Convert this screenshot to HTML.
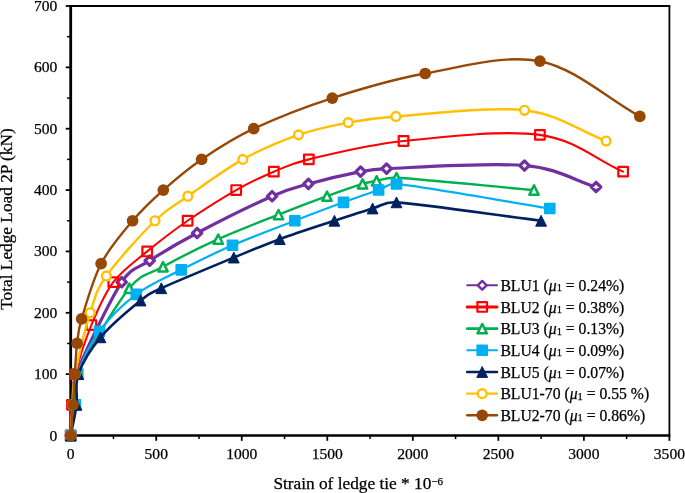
<!DOCTYPE html>
<html><head><meta charset="utf-8"><title>Chart</title>
<style>html,body{margin:0;padding:0;background:#fff}svg{display:block}text{font-family:"Liberation Serif","Times New Roman",serif;fill:#000;stroke:#000;stroke-width:0.25px}</style></head><body>
<svg width="685" height="493" viewBox="0 0 685 493">
<rect width="685" height="493" fill="#fff"/>
<path d="M69.40,6.00 H670.30" stroke="#000" stroke-width="2" fill="none"/>
<path d="M669.40,6.00 V435.50" stroke="#000" stroke-width="1.8" fill="none"/>
<path d="M70.70,5.00 V436.50" stroke="#000" stroke-width="2.8" fill="none"/>
<path d="M69.40,435.50 H670.30" stroke="#000" stroke-width="2.4" fill="none"/>
<path d="M65.70,435.50 H70.70" stroke="#000" stroke-width="1.8"/>
<path d="M67.10,404.82 H70.70" stroke="#000" stroke-width="1.5"/>
<text x="57.3" y="440.50" font-size="15.6" text-anchor="end">0</text>
<path d="M65.70,374.14 H70.70" stroke="#000" stroke-width="1.8"/>
<path d="M67.10,343.46 H70.70" stroke="#000" stroke-width="1.5"/>
<text x="57.3" y="379.14" font-size="15.6" text-anchor="end">100</text>
<path d="M65.70,312.79 H70.70" stroke="#000" stroke-width="1.8"/>
<path d="M67.10,282.11 H70.70" stroke="#000" stroke-width="1.5"/>
<text x="57.3" y="317.79" font-size="15.6" text-anchor="end">200</text>
<path d="M65.70,251.43 H70.70" stroke="#000" stroke-width="1.8"/>
<path d="M67.10,220.75 H70.70" stroke="#000" stroke-width="1.5"/>
<text x="57.3" y="256.43" font-size="15.6" text-anchor="end">300</text>
<path d="M65.70,190.07 H70.70" stroke="#000" stroke-width="1.8"/>
<path d="M67.10,159.39 H70.70" stroke="#000" stroke-width="1.5"/>
<text x="57.3" y="195.07" font-size="15.6" text-anchor="end">400</text>
<path d="M65.70,128.71 H70.70" stroke="#000" stroke-width="1.8"/>
<path d="M67.10,98.04 H70.70" stroke="#000" stroke-width="1.5"/>
<text x="57.3" y="133.71" font-size="15.6" text-anchor="end">500</text>
<path d="M65.70,67.36 H70.70" stroke="#000" stroke-width="1.8"/>
<path d="M67.10,36.68 H70.70" stroke="#000" stroke-width="1.5"/>
<text x="57.3" y="72.36" font-size="15.6" text-anchor="end">600</text>
<path d="M65.70,6.00 H70.70" stroke="#000" stroke-width="1.8"/>
<text x="57.3" y="11.00" font-size="15.6" text-anchor="end">700</text>
<path d="M70.70,435.50 V440.80" stroke="#000" stroke-width="1.8"/>
<path d="M113.46,435.50 V439.10" stroke="#000" stroke-width="1.5"/>
<text x="70.70" y="459" font-size="15.6" text-anchor="middle">0</text>
<path d="M156.23,435.50 V440.80" stroke="#000" stroke-width="1.8"/>
<path d="M198.99,435.50 V439.10" stroke="#000" stroke-width="1.5"/>
<text x="156.23" y="459" font-size="15.6" text-anchor="middle">500</text>
<path d="M241.76,435.50 V440.80" stroke="#000" stroke-width="1.8"/>
<path d="M284.52,435.50 V439.10" stroke="#000" stroke-width="1.5"/>
<text x="241.76" y="459" font-size="15.6" text-anchor="middle">1000</text>
<path d="M327.29,435.50 V440.80" stroke="#000" stroke-width="1.8"/>
<path d="M370.05,435.50 V439.10" stroke="#000" stroke-width="1.5"/>
<text x="327.29" y="459" font-size="15.6" text-anchor="middle">1500</text>
<path d="M412.81,435.50 V440.80" stroke="#000" stroke-width="1.8"/>
<path d="M455.58,435.50 V439.10" stroke="#000" stroke-width="1.5"/>
<text x="412.81" y="459" font-size="15.6" text-anchor="middle">2000</text>
<path d="M498.34,435.50 V440.80" stroke="#000" stroke-width="1.8"/>
<path d="M541.11,435.50 V439.10" stroke="#000" stroke-width="1.5"/>
<text x="498.34" y="459" font-size="15.6" text-anchor="middle">2500</text>
<path d="M583.87,435.50 V440.80" stroke="#000" stroke-width="1.8"/>
<path d="M626.64,435.50 V439.10" stroke="#000" stroke-width="1.5"/>
<text x="583.87" y="459" font-size="15.6" text-anchor="middle">3000</text>
<path d="M669.40,435.50 V440.80" stroke="#000" stroke-width="1.8"/>
<text x="669.40" y="459" font-size="15.6" text-anchor="middle">3500</text>
<text x="358.2" y="489" font-size="17.3" text-anchor="middle" id="xl">Strain of ledge tie * 10<tspan font-size="11" dy="-4.5">−6</tspan></text>
<text transform="translate(12.4,219) rotate(-90)" font-size="17.3" text-anchor="middle" id="yl">Total Ledge Load 2P (kN)</text>
<path d="M70.70,435.50 C71.63,425.27 72.57,415.05 73.50,404.82 C74.43,394.60 70.67,388.48 76.30,374.14 C84.33,353.69 109.47,301.03 121.70,282.11 C131.28,267.29 137.13,268.81 149.70,260.63 C162.27,252.45 176.70,243.76 197.10,233.02 C217.50,222.28 253.55,204.39 272.10,196.21 C289.63,188.48 293.65,188.03 308.40,183.94 C323.15,179.85 347.57,174.22 360.60,171.66 C373.45,169.14 373.52,169.09 386.60,168.60 C413.92,167.57 489.58,162.46 524.50,165.53 C559.42,168.60 572.23,179.85 596.10,187.00" fill="none" stroke="#7030A0" stroke-width="3.2" stroke-linejoin="round" stroke-linecap="round"/>
<path d="M70.70,430.80 l4.70,4.70 l-4.70,4.70 l-4.70,-4.70 z" fill="#fff" stroke="#7030A0" stroke-width="3.2" stroke-linejoin="round"/>
<path d="M73.50,400.12 l4.70,4.70 l-4.70,4.70 l-4.70,-4.70 z" fill="#fff" stroke="#7030A0" stroke-width="3.2" stroke-linejoin="round"/>
<path d="M76.30,369.44 l4.70,4.70 l-4.70,4.70 l-4.70,-4.70 z" fill="#fff" stroke="#7030A0" stroke-width="3.2" stroke-linejoin="round"/>
<path d="M121.70,277.41 l4.70,4.70 l-4.70,4.70 l-4.70,-4.70 z" fill="#fff" stroke="#7030A0" stroke-width="3.2" stroke-linejoin="round"/>
<path d="M149.70,255.93 l4.70,4.70 l-4.70,4.70 l-4.70,-4.70 z" fill="#fff" stroke="#7030A0" stroke-width="3.2" stroke-linejoin="round"/>
<path d="M197.10,228.32 l4.70,4.70 l-4.70,4.70 l-4.70,-4.70 z" fill="#fff" stroke="#7030A0" stroke-width="3.2" stroke-linejoin="round"/>
<path d="M272.10,191.51 l4.70,4.70 l-4.70,4.70 l-4.70,-4.70 z" fill="#fff" stroke="#7030A0" stroke-width="3.2" stroke-linejoin="round"/>
<path d="M308.40,179.24 l4.70,4.70 l-4.70,4.70 l-4.70,-4.70 z" fill="#fff" stroke="#7030A0" stroke-width="3.2" stroke-linejoin="round"/>
<path d="M360.60,166.96 l4.70,4.70 l-4.70,4.70 l-4.70,-4.70 z" fill="#fff" stroke="#7030A0" stroke-width="3.2" stroke-linejoin="round"/>
<path d="M386.60,163.90 l4.70,4.70 l-4.70,4.70 l-4.70,-4.70 z" fill="#fff" stroke="#7030A0" stroke-width="3.2" stroke-linejoin="round"/>
<path d="M524.50,160.83 l4.70,4.70 l-4.70,4.70 l-4.70,-4.70 z" fill="#fff" stroke="#7030A0" stroke-width="3.2" stroke-linejoin="round"/>
<path d="M596.10,182.30 l4.70,4.70 l-4.70,4.70 l-4.70,-4.70 z" fill="#fff" stroke="#7030A0" stroke-width="3.2" stroke-linejoin="round"/>
<path d="M70.70,435.50 C71.13,425.27 71.23,415.05 72.00,404.82 C72.77,394.60 72.07,387.44 75.30,374.14 C78.53,360.85 85.07,340.40 91.40,325.06 C97.73,309.72 104.00,294.38 113.30,282.11 C122.60,269.84 134.82,261.65 147.20,251.43 C159.58,241.20 172.77,230.98 187.60,220.75 C202.43,210.52 221.83,198.25 236.20,190.07 C250.57,181.89 261.70,176.78 273.80,171.66 C285.90,166.55 290.75,163.66 308.80,159.39 C330.42,154.28 364.98,145.08 403.50,140.99 C442.02,136.90 503.30,129.74 539.90,134.85 C576.50,139.96 595.37,159.39 623.10,171.66" fill="none" stroke="#FF0000" stroke-width="2.1" stroke-linejoin="round" stroke-linecap="round"/>
<rect x="65.90" y="430.70" width="9.6" height="9.6" fill="none" stroke="#FF0000" stroke-width="2.2" stroke-linejoin="round"/>
<rect x="67.20" y="400.02" width="9.6" height="9.6" fill="none" stroke="#FF0000" stroke-width="2.2" stroke-linejoin="round"/>
<rect x="70.50" y="369.34" width="9.6" height="9.6" fill="none" stroke="#FF0000" stroke-width="2.2" stroke-linejoin="round"/>
<rect x="86.60" y="320.26" width="9.6" height="9.6" fill="none" stroke="#FF0000" stroke-width="2.2" stroke-linejoin="round"/>
<rect x="108.50" y="277.31" width="9.6" height="9.6" fill="none" stroke="#FF0000" stroke-width="2.2" stroke-linejoin="round"/>
<rect x="142.40" y="246.63" width="9.6" height="9.6" fill="none" stroke="#FF0000" stroke-width="2.2" stroke-linejoin="round"/>
<rect x="182.80" y="215.95" width="9.6" height="9.6" fill="none" stroke="#FF0000" stroke-width="2.2" stroke-linejoin="round"/>
<rect x="231.40" y="185.27" width="9.6" height="9.6" fill="none" stroke="#FF0000" stroke-width="2.2" stroke-linejoin="round"/>
<rect x="269.00" y="166.86" width="9.6" height="9.6" fill="none" stroke="#FF0000" stroke-width="2.2" stroke-linejoin="round"/>
<rect x="304.00" y="154.59" width="9.6" height="9.6" fill="none" stroke="#FF0000" stroke-width="2.2" stroke-linejoin="round"/>
<rect x="398.70" y="136.19" width="9.6" height="9.6" fill="none" stroke="#FF0000" stroke-width="2.2" stroke-linejoin="round"/>
<rect x="535.10" y="130.05" width="9.6" height="9.6" fill="none" stroke="#FF0000" stroke-width="2.2" stroke-linejoin="round"/>
<rect x="618.30" y="166.86" width="9.6" height="9.6" fill="none" stroke="#FF0000" stroke-width="2.2" stroke-linejoin="round"/>
<path d="M70.70,435.50 C71.97,425.27 73.45,415.05 74.50,404.82 C75.55,394.60 70.45,388.07 77.00,374.14 C86.13,354.71 114.97,306.14 129.30,288.24 C141.79,272.65 148.18,274.95 163.00,266.77 C177.82,258.59 198.95,247.85 218.20,239.16 C237.45,230.46 260.37,221.77 278.50,214.61 C296.63,207.46 312.98,201.32 327.00,196.21 C341.02,191.09 354.33,186.49 362.60,183.94 C369.45,181.82 370.95,181.89 376.60,180.87 C382.25,179.85 386.45,177.21 396.50,177.80 C422.73,179.33 488.17,185.98 534.00,190.07" fill="none" stroke="#00B050" stroke-width="2.4" stroke-linejoin="round" stroke-linecap="round"/>
<path d="M70.70,430.85 L75.35,440.15 L66.05,440.15 z" fill="#fff" stroke="#00B050" stroke-width="2.5" stroke-linejoin="round"/>
<path d="M74.50,400.17 L79.15,409.47 L69.85,409.47 z" fill="#fff" stroke="#00B050" stroke-width="2.5" stroke-linejoin="round"/>
<path d="M77.00,369.49 L81.65,378.79 L72.35,378.79 z" fill="#fff" stroke="#00B050" stroke-width="2.5" stroke-linejoin="round"/>
<path d="M129.30,283.59 L133.95,292.89 L124.65,292.89 z" fill="#fff" stroke="#00B050" stroke-width="2.5" stroke-linejoin="round"/>
<path d="M163.00,262.12 L167.65,271.42 L158.35,271.42 z" fill="#fff" stroke="#00B050" stroke-width="2.5" stroke-linejoin="round"/>
<path d="M218.20,234.51 L222.85,243.81 L213.55,243.81 z" fill="#fff" stroke="#00B050" stroke-width="2.5" stroke-linejoin="round"/>
<path d="M278.50,209.96 L283.15,219.26 L273.85,219.26 z" fill="#fff" stroke="#00B050" stroke-width="2.5" stroke-linejoin="round"/>
<path d="M327.00,191.56 L331.65,200.86 L322.35,200.86 z" fill="#fff" stroke="#00B050" stroke-width="2.5" stroke-linejoin="round"/>
<path d="M362.60,179.29 L367.25,188.59 L357.95,188.59 z" fill="#fff" stroke="#00B050" stroke-width="2.5" stroke-linejoin="round"/>
<path d="M376.60,176.22 L381.25,185.52 L371.95,185.52 z" fill="#fff" stroke="#00B050" stroke-width="2.5" stroke-linejoin="round"/>
<path d="M396.50,173.15 L401.15,182.45 L391.85,182.45 z" fill="#fff" stroke="#00B050" stroke-width="2.5" stroke-linejoin="round"/>
<path d="M534.00,185.42 L538.65,194.72 L529.35,194.72 z" fill="#fff" stroke="#00B050" stroke-width="2.5" stroke-linejoin="round"/>
<path d="M70.70,435.50 C72.30,425.27 74.32,415.05 75.50,404.82 C76.68,394.60 73.80,386.41 77.80,374.14 C81.80,361.87 89.75,344.49 99.50,331.19 C109.25,317.90 122.68,304.60 136.30,294.38 C149.92,284.15 165.17,278.02 181.20,269.84 C197.23,261.65 213.57,253.47 232.50,245.29 C251.43,237.11 276.30,227.91 294.80,220.75 C313.30,213.59 329.53,207.46 343.50,202.34 C357.47,197.23 369.77,193.14 378.60,190.07 C387.43,187.00 387.09,182.92 396.50,183.94 C425.03,187.00 498.70,200.30 549.80,208.48" fill="none" stroke="#00B0F0" stroke-width="2.2" stroke-linejoin="round" stroke-linecap="round"/>
<rect x="64.90" y="429.70" width="11.6" height="11.6" rx="0.8" fill="#00B0F0"/>
<rect x="69.70" y="399.02" width="11.6" height="11.6" rx="0.8" fill="#00B0F0"/>
<rect x="72.00" y="368.34" width="11.6" height="11.6" rx="0.8" fill="#00B0F0"/>
<rect x="93.70" y="325.39" width="11.6" height="11.6" rx="0.8" fill="#00B0F0"/>
<rect x="130.50" y="288.58" width="11.6" height="11.6" rx="0.8" fill="#00B0F0"/>
<rect x="175.40" y="264.04" width="11.6" height="11.6" rx="0.8" fill="#00B0F0"/>
<rect x="226.70" y="239.49" width="11.6" height="11.6" rx="0.8" fill="#00B0F0"/>
<rect x="289.00" y="214.95" width="11.6" height="11.6" rx="0.8" fill="#00B0F0"/>
<rect x="337.70" y="196.54" width="11.6" height="11.6" rx="0.8" fill="#00B0F0"/>
<rect x="372.80" y="184.27" width="11.6" height="11.6" rx="0.8" fill="#00B0F0"/>
<rect x="390.70" y="178.14" width="11.6" height="11.6" rx="0.8" fill="#00B0F0"/>
<rect x="544.00" y="202.68" width="11.6" height="11.6" rx="0.8" fill="#00B0F0"/>
<path d="M70.70,435.50 C72.63,425.27 75.22,415.05 76.50,404.82 C77.78,394.60 74.40,385.39 78.40,374.14 C82.40,362.89 90.13,349.60 100.50,337.33 C110.87,325.06 130.47,308.70 140.60,300.51 C149.96,292.96 150.37,293.28 161.30,288.24 C176.83,281.08 214.05,265.75 233.80,257.56 C253.55,249.38 263.03,245.29 279.80,239.16 C296.57,233.02 318.93,225.86 334.40,220.75 C349.87,215.64 362.25,211.55 372.60,208.48 C382.95,205.41 384.20,201.45 396.50,202.34 C424.58,204.39 492.90,214.61 541.10,220.75" fill="none" stroke="#002060" stroke-width="2.6" stroke-linejoin="round" stroke-linecap="round"/>
<path d="M70.70,430.10 L76.10,440.90 L65.30,440.90 z" fill="#002060" stroke="#002060" stroke-width="1" stroke-linejoin="round"/>
<path d="M76.50,399.42 L81.90,410.22 L71.10,410.22 z" fill="#002060" stroke="#002060" stroke-width="1" stroke-linejoin="round"/>
<path d="M78.40,368.74 L83.80,379.54 L73.00,379.54 z" fill="#002060" stroke="#002060" stroke-width="1" stroke-linejoin="round"/>
<path d="M100.50,331.93 L105.90,342.73 L95.10,342.73 z" fill="#002060" stroke="#002060" stroke-width="1" stroke-linejoin="round"/>
<path d="M140.60,295.11 L146.00,305.91 L135.20,305.91 z" fill="#002060" stroke="#002060" stroke-width="1" stroke-linejoin="round"/>
<path d="M161.30,282.84 L166.70,293.64 L155.90,293.64 z" fill="#002060" stroke="#002060" stroke-width="1" stroke-linejoin="round"/>
<path d="M233.80,252.16 L239.20,262.96 L228.40,262.96 z" fill="#002060" stroke="#002060" stroke-width="1" stroke-linejoin="round"/>
<path d="M279.80,233.76 L285.20,244.56 L274.40,244.56 z" fill="#002060" stroke="#002060" stroke-width="1" stroke-linejoin="round"/>
<path d="M334.40,215.35 L339.80,226.15 L329.00,226.15 z" fill="#002060" stroke="#002060" stroke-width="1" stroke-linejoin="round"/>
<path d="M372.60,203.08 L378.00,213.88 L367.20,213.88 z" fill="#002060" stroke="#002060" stroke-width="1" stroke-linejoin="round"/>
<path d="M396.50,196.94 L401.90,207.74 L391.10,207.74 z" fill="#002060" stroke="#002060" stroke-width="1" stroke-linejoin="round"/>
<path d="M541.10,215.35 L546.50,226.15 L535.70,226.15 z" fill="#002060" stroke="#002060" stroke-width="1" stroke-linejoin="round"/>
<path d="M70.70,435.50 C71.30,425.27 71.75,415.05 72.50,404.82 C73.25,394.60 72.29,389.26 75.20,374.14 C78.15,358.80 85.00,329.15 90.20,312.79 C95.40,296.42 95.60,291.31 106.40,275.97 C117.20,260.63 141.42,234.04 155.00,220.75 C168.58,207.46 173.27,206.43 187.90,196.21 C202.53,185.98 224.37,169.62 242.80,159.39 C261.23,149.17 280.92,140.99 298.50,134.85 C316.08,128.71 332.07,125.65 348.30,122.58 C364.53,119.51 371.96,118.11 395.90,116.44 C425.27,114.40 489.47,106.22 524.50,110.31 C559.53,114.40 578.90,130.76 606.10,140.99" fill="none" stroke="#FFC000" stroke-width="2.4" stroke-linejoin="round" stroke-linecap="round"/>
<circle cx="70.70" cy="435.50" r="4.4" fill="#fff" stroke="#FFC000" stroke-width="2.4"/>
<circle cx="72.50" cy="404.82" r="4.4" fill="#fff" stroke="#FFC000" stroke-width="2.4"/>
<circle cx="75.20" cy="374.14" r="4.4" fill="#fff" stroke="#FFC000" stroke-width="2.4"/>
<circle cx="90.20" cy="312.79" r="4.4" fill="#fff" stroke="#FFC000" stroke-width="2.4"/>
<circle cx="106.40" cy="275.97" r="4.4" fill="#fff" stroke="#FFC000" stroke-width="2.4"/>
<circle cx="155.00" cy="220.75" r="4.4" fill="#fff" stroke="#FFC000" stroke-width="2.4"/>
<circle cx="187.90" cy="196.21" r="4.4" fill="#fff" stroke="#FFC000" stroke-width="2.4"/>
<circle cx="242.80" cy="159.39" r="4.4" fill="#fff" stroke="#FFC000" stroke-width="2.4"/>
<circle cx="298.50" cy="134.85" r="4.4" fill="#fff" stroke="#FFC000" stroke-width="2.4"/>
<circle cx="348.30" cy="122.58" r="4.4" fill="#fff" stroke="#FFC000" stroke-width="2.4"/>
<circle cx="395.90" cy="116.44" r="4.4" fill="#fff" stroke="#FFC000" stroke-width="2.4"/>
<circle cx="524.50" cy="110.31" r="4.4" fill="#fff" stroke="#FFC000" stroke-width="2.4"/>
<circle cx="606.10" cy="140.99" r="4.4" fill="#fff" stroke="#FFC000" stroke-width="2.4"/>
<path d="M70.70,435.50 C71.47,425.27 72.32,415.05 73.00,404.82 C73.68,394.60 74.12,384.37 74.80,374.14 C75.48,363.92 75.97,352.67 77.10,343.46 C78.23,334.26 78.01,330.87 81.60,318.92 C85.60,305.63 92.60,280.06 101.10,263.70 C109.60,247.34 122.23,233.02 132.60,220.75 C142.97,208.48 151.80,200.30 163.30,190.07 C174.80,179.85 186.53,169.62 201.60,159.39 C216.67,149.17 231.92,138.94 253.70,128.71 C275.48,118.49 303.72,107.24 332.30,98.04 C360.88,88.83 390.60,79.63 425.20,73.49 C459.80,67.36 504.13,54.06 539.90,61.22 C575.67,68.38 606.50,98.04 639.80,116.44" fill="none" stroke="#974806" stroke-width="2.4" stroke-linejoin="round" stroke-linecap="round"/>
<circle cx="70.70" cy="435.50" r="5.85" fill="#974806"/>
<circle cx="73.00" cy="404.82" r="5.85" fill="#974806"/>
<circle cx="74.80" cy="374.14" r="5.85" fill="#974806"/>
<circle cx="77.10" cy="343.46" r="5.85" fill="#974806"/>
<circle cx="81.60" cy="318.92" r="5.85" fill="#974806"/>
<circle cx="101.10" cy="263.70" r="5.85" fill="#974806"/>
<circle cx="132.60" cy="220.75" r="5.85" fill="#974806"/>
<circle cx="163.30" cy="190.07" r="5.85" fill="#974806"/>
<circle cx="201.60" cy="159.39" r="5.85" fill="#974806"/>
<circle cx="253.70" cy="128.71" r="5.85" fill="#974806"/>
<circle cx="332.30" cy="98.04" r="5.85" fill="#974806"/>
<circle cx="425.20" cy="73.49" r="5.85" fill="#974806"/>
<circle cx="539.90" cy="61.22" r="5.85" fill="#974806"/>
<circle cx="639.80" cy="116.44" r="5.85" fill="#974806"/>
<path d="M467.2,285.30 H497.0" stroke="#7030A0" stroke-width="2" stroke-linecap="round"/>
<path d="M482.20,280.90 l4.40,4.40 l-4.40,4.40 l-4.40,-4.40 z" fill="#fff" stroke="#7030A0" stroke-width="2.4" stroke-linejoin="round"/>
<text x="500.4" y="290.90" font-size="15.7" class="lg">BLU1 (<tspan font-style="italic">μ</tspan><tspan font-size="10.5" dy="0.5">1</tspan><tspan dy="-0.5"> = 0.24%)</tspan></text>
<path d="M467.2,306.97 H497.0" stroke="#FF0000" stroke-width="3" stroke-linecap="round"/>
<rect x="477.40" y="302.17" width="9.6" height="9.6" fill="none" stroke="#FF0000" stroke-width="2.2" stroke-linejoin="round"/>
<text x="500.4" y="312.57" font-size="15.7" class="lg">BLU2 (<tspan font-style="italic">μ</tspan><tspan font-size="10.5" dy="0.5">1</tspan><tspan dy="-0.5"> = 0.38%)</tspan></text>
<path d="M467.2,328.64 H497.0" stroke="#00B050" stroke-width="2.6" stroke-linecap="round"/>
<path d="M482.20,323.99 L486.85,333.29 L477.55,333.29 z" fill="#fff" stroke="#00B050" stroke-width="2.5" stroke-linejoin="round"/>
<text x="500.4" y="334.24" font-size="15.7" class="lg">BLU3 (<tspan font-style="italic">μ</tspan><tspan font-size="10.5" dy="0.5">1</tspan><tspan dy="-0.5"> = 0.13%)</tspan></text>
<path d="M467.2,350.31 H497.0" stroke="#00B0F0" stroke-width="2" stroke-linecap="round"/>
<rect x="476.40" y="344.51" width="11.6" height="11.6" rx="0.8" fill="#00B0F0"/>
<text x="500.4" y="355.91" font-size="15.7" class="lg">BLU4 (<tspan font-style="italic">μ</tspan><tspan font-size="10.5" dy="0.5">1</tspan><tspan dy="-0.5"> = 0.09%)</tspan></text>
<path d="M467.2,371.98 H497.0" stroke="#002060" stroke-width="2.6" stroke-linecap="round"/>
<path d="M482.20,366.58 L487.60,377.38 L476.80,377.38 z" fill="#002060" stroke="#002060" stroke-width="1" stroke-linejoin="round"/>
<text x="500.4" y="377.58" font-size="15.7" class="lg">BLU5 (<tspan font-style="italic">μ</tspan><tspan font-size="10.5" dy="0.5">1</tspan><tspan dy="-0.5"> = 0.07%)</tspan></text>
<path d="M467.2,393.65 H497.0" stroke="#FFC000" stroke-width="2.4" stroke-linecap="round"/>
<circle cx="482.20" cy="393.65" r="4.4" fill="#fff" stroke="#FFC000" stroke-width="2.4"/>
<text x="500.4" y="399.25" font-size="15.7" class="lg">BLU1-70 (<tspan font-style="italic">μ</tspan><tspan font-size="10.5" dy="0.5">1</tspan><tspan dy="-0.5"> = 0.55 %)</tspan></text>
<path d="M467.2,415.32 H497.0" stroke="#974806" stroke-width="2.4" stroke-linecap="round"/>
<circle cx="482.20" cy="415.32" r="5.85" fill="#974806"/>
<text x="500.4" y="420.92" font-size="15.7" class="lg">BLU2-70 (<tspan font-style="italic">μ</tspan><tspan font-size="10.5" dy="0.5">1</tspan><tspan dy="-0.5"> = 0.86%)</tspan></text>
</svg></body></html>
